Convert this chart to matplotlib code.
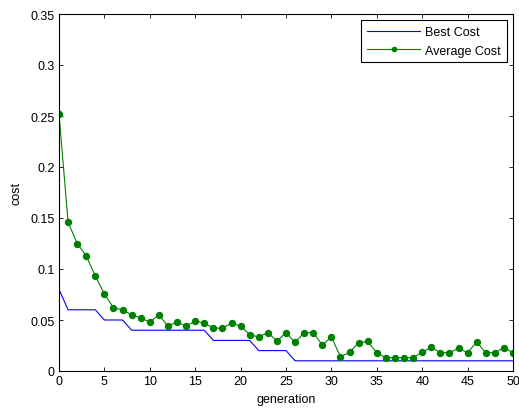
#!/usr/bin/env python3
"""GA convergence curve: best and average cost per generation."""
import numpy as np
import matplotlib
matplotlib.use("Agg")
import matplotlib.pyplot as plt

plt.rcParams.update({"font.family": ["Liberation Sans", "DejaVu Sans"], "font.size": 9})

generation = np.arange(0, 51)
best_cost = ([0.08] + [0.06] * 4 + [0.05] * 3 + [0.04] * 9 + [0.03] * 5
             + [0.02] * 4 + [0.01] * 25)
avg_cost = [0.252, 0.146, 0.125, 0.113, 0.093, 0.0755, 0.062, 0.060, 0.055, 0.052,
            0.048, 0.055, 0.044, 0.048, 0.044, 0.049, 0.047, 0.042, 0.042, 0.047,
            0.044, 0.0356, 0.0333, 0.0376, 0.0294, 0.0376, 0.0281, 0.0376, 0.0376, 0.0255,
            0.0333, 0.014, 0.0183, 0.0278, 0.029, 0.018, 0.013, 0.013, 0.013, 0.013,
            0.0183, 0.0232, 0.018, 0.018, 0.0222, 0.018, 0.0284, 0.018, 0.018, 0.0229,
            0.018]

fig = plt.figure(figsize=(5.19, 4.10), dpi=100)
ax = fig.add_axes([59 / 519, 38 / 410, 454 / 519, 357 / 410])

ax.plot(generation, best_cost, "-", color="#0000ff", lw=0.8, label="Best Cost")
ax.plot(generation, avg_cost, "-o", color="#008000", lw=0.8, ms=4.3, label="Average Cost")

ax.set_xlim(0, 50)
ax.set_ylim(0, 0.35)
ax.set_xticks(np.arange(0, 51, 5))
ax.set_yticks(np.arange(0, 0.351, 0.05))
ax.set_yticklabels(["0", "0.05", "0.1", "0.15", "0.2", "0.25", "0.3", "0.35"])
ax.tick_params(direction="in", top=True, right=True, length=3, width=0.6, pad=3)
for s in ax.spines.values():
    s.set_linewidth(0.8)
ax.set_xlabel("generation", labelpad=4)
ax.set_ylabel("cost", labelpad=6)

leg = ax.legend(loc="upper right", fancybox=False, edgecolor="black", framealpha=1,
                borderaxespad=0.5, handlelength=4.3, handletextpad=0.4,
                markerscale=0.7, borderpad=0.45, labelspacing=0.55)
leg.get_frame().set_linewidth(0.8)

fig.savefig("out.png", dpi=100)
